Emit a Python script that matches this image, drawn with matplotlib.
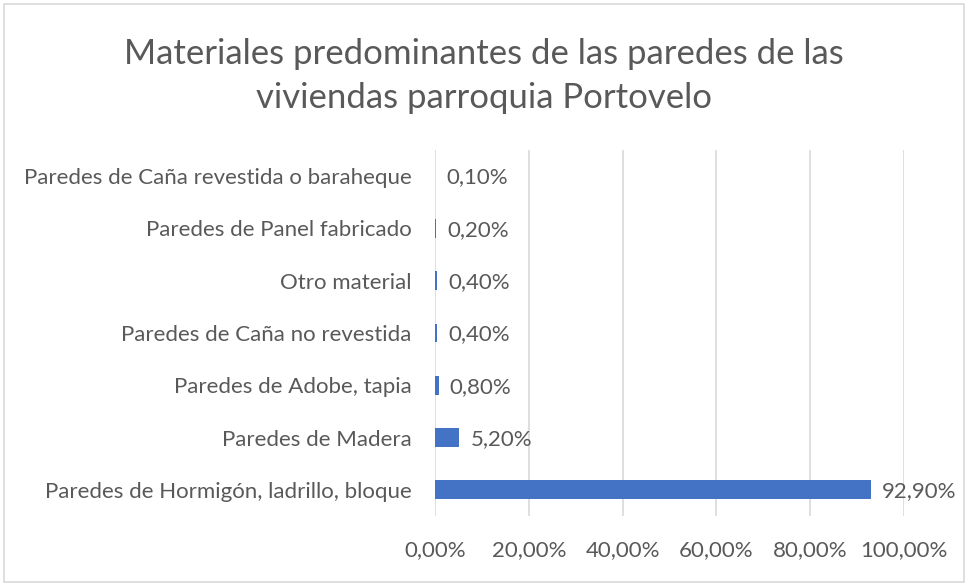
import matplotlib
matplotlib.use("Agg")
import matplotlib.pyplot as plt
from matplotlib.patches import Rectangle

categories = [
    "Paredes de Hormigón, ladrillo, bloque",
    "Paredes de Madera",
    "Paredes de Adobe, tapia",
    "Paredes de Caña no revestida",
    "Otro material",
    "Paredes de Panel fabricado",
    "Paredes de Caña revestida o baraheque",
]
values = [0.929, 0.052, 0.008, 0.004, 0.004, 0.002, 0.001]
xticks = [0.0, 0.2, 0.4, 0.6, 0.8, 1.0]
title = "Materiales predominantes de las paredes de las\nviviendas parroquia Portovelo"

plt.rcParams['font.family'] = ['Lato', 'DejaVu Sans']
TXT = "#595959"
BAR = "#4472C4"
GRID = "#D9D9D9"

fig = plt.figure(figsize=(9.68, 5.84), dpi=100)
ax = fig.add_axes([435/968, 1-516/584, (904-435)/968, (516-150)/584])

y = list(range(len(categories)))
ax.barh(y, values, height=0.36, color=BAR, zorder=3)
for yi, v in zip(y, values):
    lbl = f"{v*100:.2f}%".replace(".", ",")
    ax.annotate(lbl, (v, yi), xytext=(8, -1), textcoords="offset points",
                va="center", ha="left", fontsize=16, color=TXT)

ax.set_xlim(0, 1.0)
ax.set_ylim(-0.5, len(categories) - 0.5)
ax.set_xticks(xticks)
ax.set_xticklabels([f"{t*100:.2f}%".replace(".", ",") for t in xticks], fontsize=16, color=TXT)
ax.set_yticks(y)
ax.set_yticklabels(categories, fontsize=16, color=TXT)
ax.tick_params(length=0)
ax.tick_params(axis='x', pad=17)
ax.tick_params(axis='y', pad=17)
ax.grid(axis='x', color=GRID, linewidth=1.2, zorder=0)
for s in ax.spines.values():
    s.set_visible(False)

fig.text(484/968, 1-76/584, title, ha="center", va="center", fontsize=25,
         color=TXT, linespacing=1.5)

fig.patches.append(Rectangle((0.004, 0.004), 0.992, 0.99, transform=fig.transFigure,
                             fill=False, edgecolor=GRID, linewidth=1.2))

fig.savefig("out.png", dpi=100)
